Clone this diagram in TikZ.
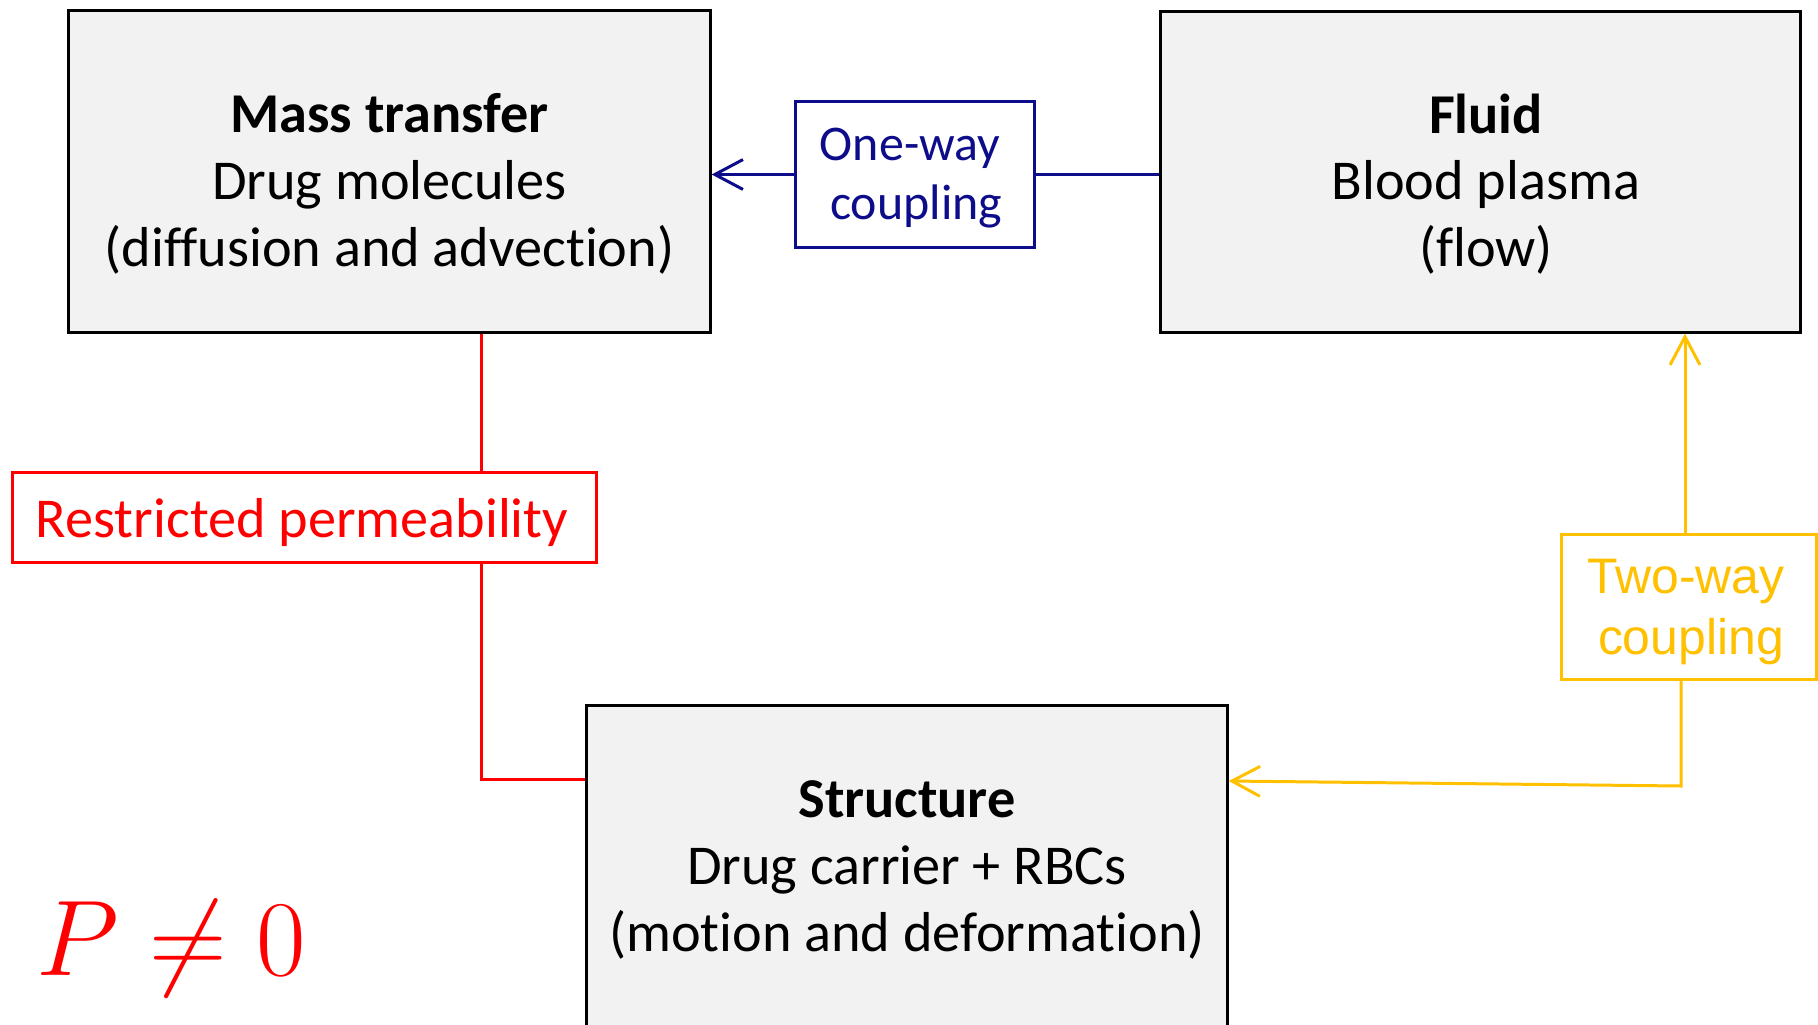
\documentclass[tikz,border=0pt]{standalone}
\usepackage{graphicx}
\usepackage{fontspec}
\setmainfont[Ligatures=NoCommon]{Carlito}
\newfontfamily\arialf{Liberation Sans}
\usetikzlibrary{arrows.meta}
\definecolor{boxfill}{RGB}{242,242,242}
\definecolor{navyc}{RGB}{13,13,139}
\definecolor{goldc}{RGB}{255,192,0}
\definecolor{redc}{RGB}{255,0,0}
\begin{document}
\begin{tikzpicture}[x=0.01cm,y=-0.01cm,
  mainbox/.style={draw=black, line width=0.85pt, fill=boxfill, rectangle, inner sep=0pt},
  maintext/.style={align=center, inner sep=0pt, font=\fontsize{16}{19}\selectfont},
  navybox/.style={draw=navyc, line width=0.85pt, fill=white, rectangle, inner sep=0pt},
  redbox/.style={draw=redc, line width=0.85pt, fill=white, rectangle, inner sep=0pt},
  goldbox/.style={draw=goldc, line width=0.85pt, fill=white, rectangle, inner sep=0pt},
  barb/.style={-{Straight Barb[length=8pt,width=8.5pt,line width=0.85pt]}},
  conn/.style={line width=0.85pt},
  thickconn/.style={line width=1.05pt}
]
\path[use as bounding box] (0,0) rectangle (1818,1024);
\clip (0,0) rectangle (1818,1024);

% boxes
\node[mainbox, minimum width=6.41cm, minimum height=3.21cm] (mt) at (389.5,171.5) {};
\node[mainbox, minimum width=6.39cm, minimum height=3.20cm] (fl) at (1480.5,172) {};
\node[mainbox, minimum width=6.40cm, minimum height=3.30cm] (st) at (907,871) {};
\node[navybox, minimum width=2.38cm, minimum height=1.45cm] (ow) at (915,174.5) {};
\node[redbox, minimum width=5.83cm, minimum height=0.89cm] (rp) at (304.5,517.5) {};
\node[goldbox, minimum width=2.54cm, minimum height=1.44cm] (tw) at (1689,607) {};

% texts
\node[maintext] (mtt) at (389.5,184) {\textbf{Mass transfer}\\Drug molecules\\(diffusion and advection)};
\node[maintext] (flt) at (1486,184) {\textbf{Fluid}\\Blood plasma\\(flow)};
\node[maintext] (stt) at (907,870) {\textbf{Structure}\\Drug carrier + RBCs\\(motion and deformation)};
\node[align=center, inner sep=0pt, text=navyc, font=\fontsize{14.2}{17}\selectfont] (owt) at (910,178) {One-way\\\hspace*{0.25em}coupling};
\node[anchor=base, inner sep=0pt, text=redc, font=\fontsize{16}{19}\selectfont] (rpt) at (302,537) {Restricted permeability};
\node[align=center, inner sep=0pt, text=goldc, font=\arialf\fontsize{14.2}{17.4}\selectfont] (twt) at (1686,612) {Two-way\\\hspace*{0.2em}coupling};
\node[anchor=base west, inner sep=0pt, text=redc, font=\fontsize{24.88}{30}\selectfont] (pn) at (36,975) {\scalebox{1.23}{$P\neq 0$}};

% helper coordinates
\coordinate (rx) at (481,0);
\coordinate (ry) at (0,779);
\coordinate (yx) at (1685,0);
\coordinate (yx2) at (1681,0);
\coordinate (yy) at (0,786);
\coordinate (yy2) at (0,781);

% connectors
\draw[thickconn, navyc, barb] (ow.west) -- (ow.west -| mt.east);
\draw[thickconn, navyc] (fl.west |- ow.east) -- (ow.east);
\draw[conn, redc] (mt.south -| rx) -- (rp.north -| rx);
\draw[conn, redc] (rp.south -| rx) |- (st.west |- ry);
\draw[conn, goldc, barb] (tw.north -| yx) -- (fl.south -| yx);
\draw[conn, goldc, barb] (tw.south -| yx2) -- (yx2 |- yy) -- (st.east |- yy2);
\end{tikzpicture}
\end{document}
